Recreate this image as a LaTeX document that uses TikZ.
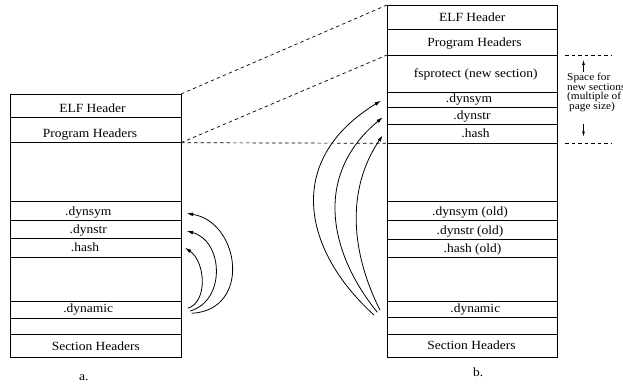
\documentclass[tikz,border=0pt]{standalone}
\usepackage{fontspec}
\setmainfont{Liberation Serif}[FakeStretch=1.08]
\usetikzlibrary{arrows.meta}
\newcommand{\mainsz}{\fontsize{12.5}{15}\selectfont}
\newcommand{\smallsz}{\fontsize{10.5}{8.5}\selectfont}
\begin{document}
\begin{tikzpicture}[x=1pt,y=-1pt,
  rowbox/.style={draw, line width=0.9pt, inner sep=0pt, outer sep=0pt, anchor=north west},
  lrow/.style={rowbox, minimum width=171pt},
  rrow/.style={rowbox, minimum width=170pt},
  lbl/.style={anchor=base, inner sep=0pt, font=\mainsz},
  dashline/.style={line width=0.7pt, dash pattern=on 3.5pt off 3pt},
  arc/.style={line width=0.8pt, -{Latex[length=6.5pt,width=3.8pt]}},
  sarrow/.style={line width=0.7pt, -{Latex[length=5pt,width=3pt]}}]
\useasboundingbox (0,0) rectangle (623,385);

% left box
\node[lrow, minimum height=23.3pt] (lE) at (10,94) {};
\node[lrow, minimum height=25.4pt] (lP) at (10,117.3) {};
\node[lrow, minimum height=59pt] (lG1) at (10,142.7) {};
\node[lrow, minimum height=18.3pt] (lSym) at (10,201.7) {};
\node[lrow, minimum height=18.7pt] (lStr) at (10,220) {};
\node[lrow, minimum height=19pt] (lHash) at (10,238.7) {};
\node[lrow, minimum height=43.3pt] (lG2) at (10,257.7) {};
\node[lrow, minimum height=17pt] (lDyn) at (10,301) {};
\node[lrow, minimum height=16pt] (lG3) at (10,318) {};
\node[lrow, minimum height=23.3pt] (lSec) at (10,334) {};

\node[lbl] (tlE) at (92.5,112.7) {ELF Header};
\node[lbl] (tlP) at (90,137.7) {Program Headers};
\node[lbl] (tlSym) at (88.3,215) {.dynsym};
\node[lbl] (tlStr) at (88.3,233.3) {.dynstr};
\node[lbl] (tlHash) at (85,251.7) {.hash};
\node[lbl] (tlDyn) at (88.3,312.3) {.dynamic};
\node[lbl] (tlSec) at (95.8,350.7) {Section Headers};
\node[lbl] (capa) at (83.7,380.5) {a.};

% right box
\node[rrow, minimum height=24.3pt] (rE) at (387,5) {};
\node[rrow, minimum height=25.7pt] (rP) at (387,29.3) {};
\node[rrow, minimum height=37.3pt] (rFs) at (387,55) {};
\node[rrow, minimum height=15.4pt] (rSym) at (387,92.3) {};
\node[rrow, minimum height=16.3pt] (rStr) at (387,107.7) {};
\node[rrow, minimum height=19.3pt] (rHash) at (387,124) {};
\node[rrow, minimum height=57.7pt] (rG1) at (387,143.3) {};
\node[rrow, minimum height=19pt] (rSymO) at (387,201) {};
\node[rrow, minimum height=19pt] (rStrO) at (387,220) {};
\node[rrow, minimum height=18.3pt] (rHashO) at (387,239) {};
\node[rrow, minimum height=44.4pt] (rG2) at (387,257.3) {};
\node[rrow, minimum height=15.6pt] (rDyn) at (387,301.7) {};
\node[rrow, minimum height=16.7pt] (rG3) at (387,317.3) {};
\node[rrow, minimum height=23.3pt] (rSec) at (387,334) {};

\node[lbl] (trE) at (472.2,21.7) {ELF Header};
\node[lbl] (trP) at (474.5,46.7) {Program Headers};
\node[lbl] (trFs) at (475.8,77.7) {fsprotect (new section)};
\node[lbl] (trSym) at (469,102.3) {.dynsym};
\node[lbl] (trStr) at (472,119.3) {.dynstr};
\node[lbl] (trHash) at (475.5,137.3) {.hash};
\node[lbl] (trSymO) at (470,215) {.dynsym (old)};
\node[lbl] (trStrO) at (470,234) {.dynstr (old)};
\node[lbl] (trHashO) at (472.5,252.7) {.hash (old)};
\node[lbl] (trDyn) at (475.3,312.3) {.dynamic};
\node[lbl] (trSec) at (471.5,349.3) {Section Headers};
\node[lbl] (capb) at (478.3,376.7) {b.};

% dashed correspondence lines
\draw[dashline] (lE.north east) -- (rE.north west);
\draw[dashline] (lP.south east) -- (rP.south west);
\draw[dashline] (lP.south east) -- (rHash.south west);

% arcs (a)
\draw[arc] ([shift={(10.7,3.8)}]lDyn.east) .. controls +(60.3,-3.3) and +(53.3,8.7) .. ([shift={(5.7,2.5)}]lSym.east);
\draw[arc] ([shift={(9,1.5)}]lDyn.east) .. controls +(36,-10) and +(36.9,10) .. ([shift={(5.7,1.65)}]lStr.east);
\draw[arc] ([shift={(6.7,-1.2)}]lDyn.east) .. controls +(20.3,-6.3) and +(20.6,14.3) .. ([shift={(4,-0.5)}]lHash.east);

% arcs (b)
\draw[arc] ([shift={(-13,5.5)}]rDyn.west) .. controls +(-71.2,-64.5) and +(-97.3,59.5) .. ([shift={(-6,0.7)}]rSym.west);
\draw[arc] ([shift={(-9.7,2.8)}]rDyn.west) .. controls +(-48.4,-59.9) and +(-69.6,57.9) .. ([shift={(-4.3,1.45)}]rStr.west);
\draw[arc] ([shift={(-7,0.5)}]rDyn.west) .. controls +(-28.7,-56.7) and +(-37.1,54.9) .. ([shift={(-4.3,1.65)}]rHash.west);

% space annotation
\coordinate (sA1) at (565,55);
\coordinate (sA2) at (611,55);
\coordinate (sB1) at (565,143);
\coordinate (sB2) at (611,143);
\draw[dashline] (sA1) -- (sA2);
\draw[dashline] (sB1) -- (sB2);
\coordinate (uA) at (583.5,72);
\coordinate (uB) at (583.5,60);
\coordinate (dA) at (583.5,124);
\coordinate (dB) at (583.5,136.5);
\draw[sarrow] (uA) -- (uB);
\draw[sarrow] (dA) -- (dB);
\node[anchor=base west, inner sep=0pt, align=left, font=\smallsz] (space) at (567,110)
  {Space for\\new sections\\(multiple of\\\hspace*{2pt}page size)};
\end{tikzpicture}
\end{document}
